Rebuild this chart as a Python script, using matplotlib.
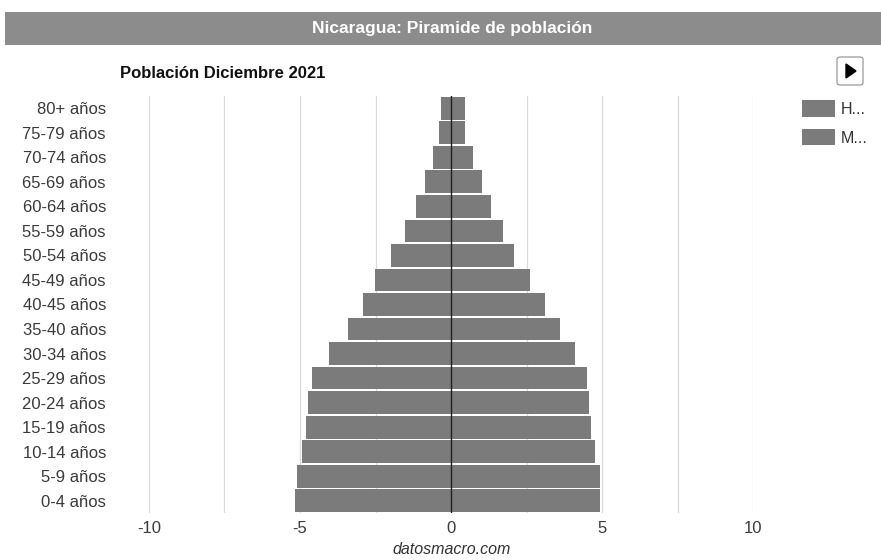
import matplotlib
matplotlib.use("Agg")
import matplotlib.pyplot as plt
from matplotlib.patches import Rectangle, FancyBboxPatch, Polygon

plt.rcParams['font.family'] = ['Liberation Sans Narrow', 'Liberation Sans', 'DejaVu Sans']

# grupos de edad (de abajo hacia arriba)
grupos = ["0-4 años", "5-9 años", "10-14 años", "15-19 años", "20-24 años",
          "25-29 años", "30-34 años", "35-40 años", "40-45 años", "45-49 años",
          "50-54 años", "55-59 años", "60-64 años", "65-69 años", "70-74 años",
          "75-79 años", "80+ años"]
# porcentaje de hombres y mujeres
hombres = [5.17, 5.11, 4.94, 4.79, 4.72, 4.59, 4.04, 3.40, 2.91, 2.51,
           1.99, 1.52, 1.17, 0.87, 0.58, 0.40, 0.32]
mujeres = [4.92, 4.92, 4.76, 4.62, 4.57, 4.49, 4.11, 3.60, 3.12, 2.62,
           2.10, 1.72, 1.34, 1.04, 0.73, 0.46, 0.46]
ticks_x = [-10, -5, 0, 5, 10]
grid_x = [-10, -7.5, -5, -2.5, 2.5, 5, 7.5, 10]

W, H = 881, 560
fig = plt.figure(figsize=(W / 100, H / 100), dpi=100)
ax = fig.add_axes([149 / W, 1 - 513 / H, (753 - 149) / W, (513 - 96) / H])

gris = "#7b7b7b"
y = range(len(grupos))
ax.barh(y, [-v for v in hombres], height=0.93, color=gris, label="H...")
ax.barh(y, mujeres, height=0.93, color=gris, label="M...")

for g in grid_x:
    ax.axvline(g, color="#d9d9d9", lw=0.9, zorder=0)
ax.axvline(0, color="#222222", lw=1.0, zorder=3)

ax.set_xlim(-10, 10)
ax.set_ylim(-0.5, len(grupos) - 0.5)
ax.set_yticks(list(y))
ax.set_yticklabels(grupos)
ax.set_xticks(ticks_x)
ax.set_xticklabels([str(t) for t in ticks_x])
ax.tick_params(length=0, labelsize=12, colors="#3a3a3a")
ax.tick_params(axis="y", pad=31)
ax.tick_params(axis="x", pad=6)
for s in ax.spines.values():
    s.set_visible(False)

# barra de título
fig.add_artist(Rectangle((5 / W, 1 - 45 / H), 876 / W, 33 / H,
                         transform=fig.transFigure, color="#8c8c8c", lw=0))
fig.text(452 / W, 1 - 29 / H, "Nicaragua: Piramide de población", color="white",
         fontsize=12.5, fontweight="bold", ha="center", va="center")
fig.text(120 / W, 1 - 73 / H, "Población Diciembre 2021", color="#111111",
         fontsize=12, fontweight="bold", ha="left", va="center")

# botón de reproducción
fig.add_artist(FancyBboxPatch((837 / W, 1 - 85 / H), 26 / W, 28 / H,
                              boxstyle="round,pad=0,rounding_size=0.004",
                              transform=fig.transFigure, facecolor="white",
                              edgecolor="#999999", lw=0.9))
fig.add_artist(Polygon([(846 / W, 1 - 64 / H), (846 / W, 1 - 78 / H), (856 / W, 1 - 71 / H)],
                       closed=True, transform=fig.transFigure, color="black"))

# leyenda
fig.legend(loc="upper left", bbox_to_anchor=(788 / W, 1 - 86 / H), frameon=False,
           fontsize=11.5, handlelength=2.05, handleheight=1.2, labelspacing=0.75,
           handletextpad=0.35, labelcolor="#333333")

fig.text(452 / W, 1 - 550 / H, "datosmacro.com", fontstyle="italic",
         color="#333333", fontsize=11.5, ha="center", va="center")

fig.savefig("out.png", dpi=100, facecolor="white")
